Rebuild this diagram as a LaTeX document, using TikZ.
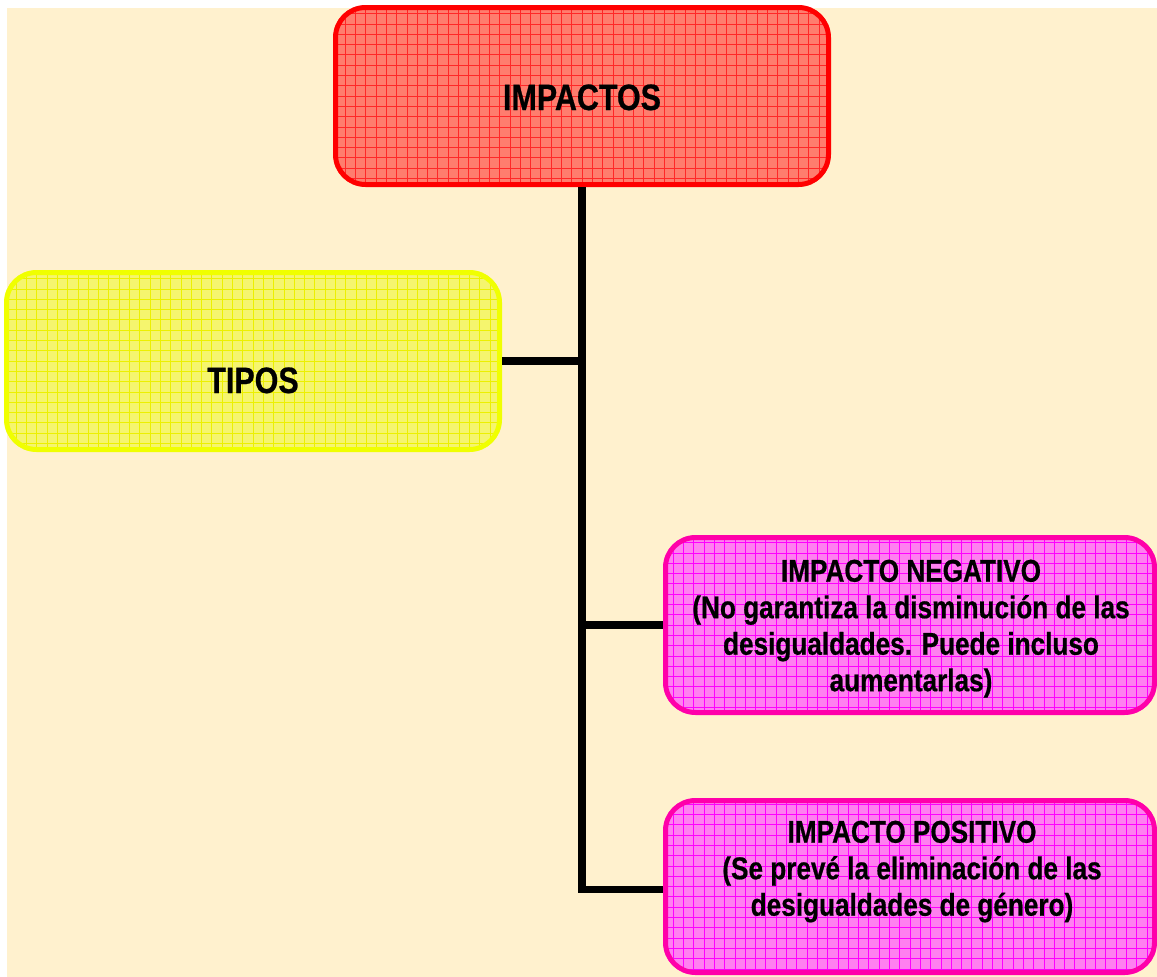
\documentclass[tikz,border=0pt]{standalone}
\usepackage{fontspec}
\newfontfamily\narrowsans{Liberation Sans}[FakeStretch=0.83,FakeBold=0.6]
\definecolor{paper}{RGB}{255,241,206}
\definecolor{redline}{RGB}{255,0,0}
\definecolor{redfill}{RGB}{255,125,110}
\definecolor{redgrid}{RGB}{255,40,40}
\definecolor{yelline}{RGB}{240,255,0}
\definecolor{yelfill}{RGB}{245,245,110}
\definecolor{yelgrid}{RGB}{236,240,0}
\definecolor{pinkline}{RGB}{255,0,170}
\definecolor{pinkfill}{RGB}{255,128,240}
\definecolor{pinkgrid}{RGB}{255,0,255}
\begin{document}
\begin{tikzpicture}[x=1pt,y=-1pt,
  gridbox/.style n args={3}{rectangle, rounded corners=30pt, line width=5pt,
    inner sep=0pt, draw=#1, fill=#2,
    path picture={\draw[#3, line width=0.8pt]
      (path picture bounding box.south west) grid[step=10.3pt]
      (path picture bounding box.north east);}},
  conn/.style={line width=7.5pt, line join=miter, draw=black},
  bigtext/.style={font=\narrowsans\bfseries\fontsize{36.7}{40}\selectfont,
    inner sep=0pt, anchor=base},
  smalltext/.style={font=\narrowsans\bfseries\fontsize{31.5}{36.5}\selectfont,
    inner sep=0pt, align=center, anchor=north}]
  \useasboundingbox (0,0) rectangle (1157,977);
  \fill[paper] (7,8) rectangle (1157,977);

  % boxes (shapes only; texts are placed below)
  \node[gridbox={redline}{redfill}{redgrid}, minimum width=493pt, minimum height=177pt]
    (imp) at (582,96) {};
  \node[gridbox={yelline}{yelfill}{yelgrid}, minimum width=493pt, minimum height=177pt]
    (tipos) at (253,361) {};
  \node[gridbox={pinkline}{pinkfill}{pinkgrid}, minimum width=489pt, minimum height=175pt]
    (neg) at (910,625) {};
  \node[gridbox={pinkline}{pinkfill}{pinkgrid}, minimum width=489pt, minimum height=172pt]
    (pos) at (910,886.5) {};

  % connectors
  \draw[conn] (imp.south) |- ([yshift=-3pt]pos.west);
  \draw[conn] (tipos.east) -- (tipos.east -| imp.south);
  \draw[conn] (neg.west) -- (neg.west -| imp.south);

  % texts
  \node[bigtext] (imp-t) at (582,110) {IMPACTOS};
  \node[bigtext] (tipos-t) at (253,393) {TIPOS};
  \node[smalltext] (neg-t) at (911,559.5)
    {IMPACTO NEGATIVO\\(No garantiza la disminución de las\\desigualdades. Puede incluso\\aumentarlas)};
  \node[smalltext] (pos-t) at (912,820.5)
    {IMPACTO POSITIVO\\(Se prevé la eliminación de las\\desigualdades de género)};
\end{tikzpicture}
\end{document}
